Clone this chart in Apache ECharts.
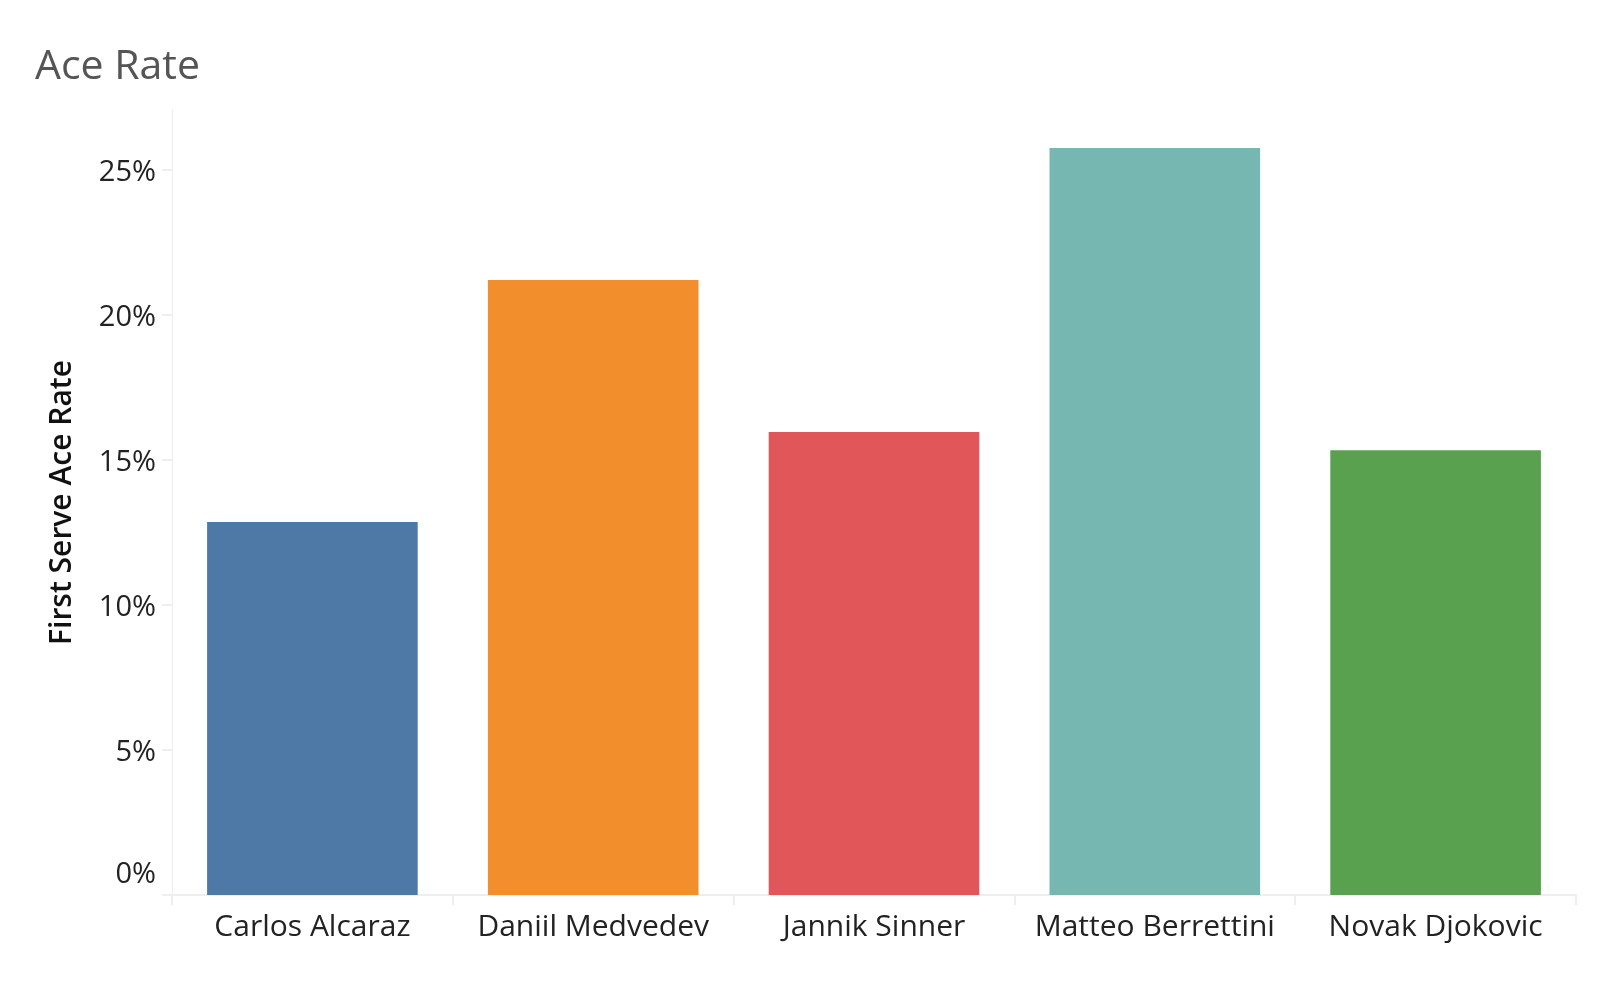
<!DOCTYPE html>
<html>
<head>
<meta charset="utf-8">
<script src="https://cdn.jsdelivr.net/npm/echarts@6/dist/echarts.min.js"></script>
<style>
html,body{margin:0;padding:0;background:#fff;}
#main{width:1598px;height:998px;}
</style>
</head>
<body>
<div id="main"></div>
<script>
const titleText = 'Ace Rate';
const yAxisTitle = 'First Serve Ace Rate';
const players = ['Carlos Alcaraz', 'Daniil Medvedev', 'Jannik Sinner', 'Matteo Berrettini', 'Novak Djokovic'];
const aceRate = [12.86, 21.21, 15.97, 25.76, 15.34];
const barColors = ['#4e79a7', '#f28e2b', '#e15759', '#76b7b2', '#59a14f'];
const yTicks = [0, 5, 10, 15, 20, 25];
const yMax = 27.07;

const chart = echarts.init(document.getElementById('main'), null, {renderer: 'canvas'});
const font = '"Open Sans", Lato, sans-serif';
chart.setOption({
  backgroundColor: '#ffffff',
  animation: false,
  title: {
    text: titleText,
    left: 30,
    top: 42,
    textStyle: {fontFamily: font, fontSize: 41, fontWeight: 'normal', color: '#555555'}
  },
  grid: {left: 172, right: 22, top: 110, bottom: 103, containLabel: false},
  xAxis: {
    type: 'category',
    data: players,
    axisLine: {show: true, lineStyle: {color: '#eeeeee', width: 2}},
    axisTick: {show: true, length: 10, lineStyle: {color: '#eeeeee', width: 2}},
    axisLabel: {interval: 0, fontFamily: font, fontSize: 30, color: '#222222', margin: 17}
  },
  yAxis: {
    type: 'value',
    min: 0,
    max: yMax,
    interval: 5,
    name: yAxisTitle,
    nameLocation: 'middle',
    nameGap: 95,
    nameTextStyle: {fontFamily: font, fontSize: 30, fontWeight: 600, color: '#111111'},
    splitLine: {show: false},
    axisLine: {show: true, lineStyle: {color: '#eeeeee', width: 1}},
    axisTick: {show: true, length: 10, customValues: yTicks, lineStyle: {color: '#eeeeee', width: 2}},
    axisLabel: {
      customValues: yTicks,
      fontFamily: font, fontSize: 29, color: '#222222', margin: 16,
      formatter: function (v) { return v === 0 ? '{z|0%}' : '{n|' + v + '%}'; },
      rich: {
        z: {fontFamily: font, fontSize: 29, color: '#222222', padding: [0, 0, 40, 0]},
        n: {fontFamily: font, fontSize: 29, color: '#222222', padding: [6, 0, 0, 0]}
      }
    }
  },
  series: [{
    type: 'bar',
    data: aceRate.map((v, i) => ({value: v, itemStyle: {color: barColors[i]}})),
    barCategoryGap: '25%'
  }]
});
</script>
</body>
</html>
